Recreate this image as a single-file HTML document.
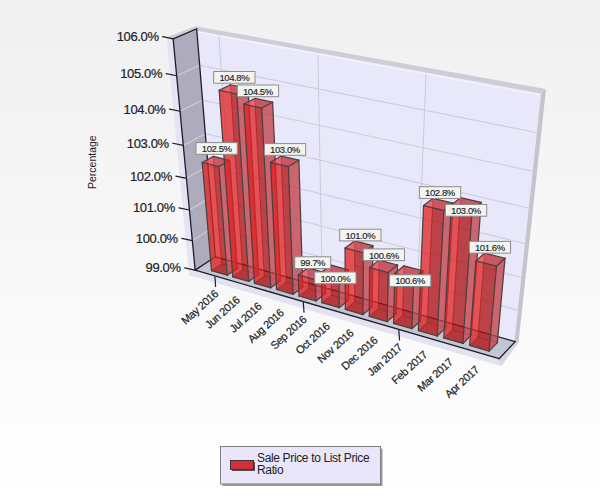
<!DOCTYPE html>
<html><head><meta charset="utf-8"><style>
html,body{margin:0;padding:0;}
body{width:600px;height:500px;overflow:hidden;background:linear-gradient(to bottom,#f0f0f0,#ffffff);font-family:"Liberation Sans",sans-serif;}
svg{position:absolute;left:0;top:0;}
.yl{font-size:13px;letter-spacing:-0.35px;stroke:#1c2228;stroke-width:0.2px;text-anchor:end;fill:#1c2228;}
.dl{font-size:9.5px;letter-spacing:-0.4px;stroke:#1c2228;stroke-width:0.15px;text-anchor:middle;fill:#1c2228;}
.xl{font-size:11px;letter-spacing:-0.4px;stroke:#1c2228;stroke-width:0.2px;text-anchor:end;fill:#1c2228;}
.tt{font-size:10.5px;fill:#1c2228;}
.lg{font-size:12px;letter-spacing:-0.35px;fill:#1c2228;}
</style></head><body>
<svg width="600" height="500" viewBox="0 0 600 500">
<polygon points="166.50,37.50 173.50,39.30 195.60,270.40 195.60,277.00 189.00,275.00" fill="#e4e4f4"/>
<polygon points="189.00,268.00 195.60,270.40 499.50,359.20 514.50,341.20 518.50,342.50 501.00,366.00 195.60,277.00 189.00,275.00" fill="#e2e2f0"/>
<polygon points="499.50,359.20 514.50,341.20 518.50,342.50 501.00,366.00" fill="#d6d6e2"/>
<polygon points="215.42,256.81 515.22,341.64 540.81,92.30 196.68,28.97" fill="#e8e8fa"/>
<polygon points="195.15,270.11 173.14,38.86 196.68,28.97 215.42,256.81" fill="#aeacbc"/>
<polygon points="195.15,270.11 499.12,358.69 515.22,341.64 215.42,256.81" fill="#c2c6d2"/>
<line x1="213.02" y1="227.67" x2="518.44" y2="310.25" stroke="#cacadc" stroke-width="1" stroke-linecap="butt"/>
<line x1="192.34" y1="240.61" x2="213.02" y2="227.67" stroke="#d6d6e2" stroke-width="1" stroke-linecap="butt"/>
<line x1="210.54" y1="197.50" x2="521.79" y2="277.60" stroke="#cacadc" stroke-width="1" stroke-linecap="butt"/>
<line x1="189.43" y1="210.03" x2="210.54" y2="197.50" stroke="#d6d6e2" stroke-width="1" stroke-linecap="butt"/>
<line x1="207.97" y1="166.23" x2="525.28" y2="243.60" stroke="#cacadc" stroke-width="1" stroke-linecap="butt"/>
<line x1="186.42" y1="178.33" x2="207.97" y2="166.23" stroke="#d6d6e2" stroke-width="1" stroke-linecap="butt"/>
<line x1="205.30" y1="133.81" x2="528.92" y2="208.17" stroke="#cacadc" stroke-width="1" stroke-linecap="butt"/>
<line x1="183.29" y1="145.43" x2="205.30" y2="133.81" stroke="#d6d6e2" stroke-width="1" stroke-linecap="butt"/>
<line x1="202.53" y1="100.18" x2="532.71" y2="171.21" stroke="#cacadc" stroke-width="1" stroke-linecap="butt"/>
<line x1="180.04" y1="111.27" x2="202.53" y2="100.18" stroke="#d6d6e2" stroke-width="1" stroke-linecap="butt"/>
<line x1="199.66" y1="65.25" x2="536.67" y2="132.62" stroke="#cacadc" stroke-width="1" stroke-linecap="butt"/>
<line x1="176.66" y1="75.77" x2="199.66" y2="65.25" stroke="#d6d6e2" stroke-width="1" stroke-linecap="butt"/>
<line x1="234.98" y1="262.34" x2="218.75" y2="33.03" stroke="#cacadc" stroke-width="1" stroke-linecap="butt"/>
<line x1="322.28" y1="287.05" x2="317.90" y2="51.28" stroke="#cacadc" stroke-width="1" stroke-linecap="butt"/>
<line x1="416.50" y1="313.70" x2="426.10" y2="71.19" stroke="#cacadc" stroke-width="1" stroke-linecap="butt"/>
<line x1="197.50" y1="32.00" x2="540.00" y2="95.00" stroke="#f6f6fe" stroke-width="1.6" stroke-linecap="butt" stroke-opacity="0.75"/>
<polygon points="166.50,37.20 195.50,26.20 546.00,89.00 541.00,93.40 196.30,30.60 173.50,39.30" fill="#cdcdd8"/>
<polygon points="546.00,89.00 518.50,342.50 514.50,341.20 541.00,93.40" fill="#c4c4cc"/>
<line x1="195.15" y1="270.11" x2="173.14" y2="38.86" stroke="#1e1e28" stroke-width="1.3" stroke-linecap="round"/>
<line x1="173.14" y1="38.86" x2="196.68" y2="28.97" stroke="#1e1e28" stroke-width="1.3" stroke-linecap="round"/>
<line x1="196.68" y1="28.97" x2="215.42" y2="256.81" stroke="#1e1e28" stroke-width="1.3" stroke-linecap="round"/>
<line x1="195.15" y1="270.11" x2="215.42" y2="256.81" stroke="#1e1e28" stroke-width="1.3" stroke-linecap="round"/>
<line x1="195.15" y1="270.11" x2="499.12" y2="358.69" stroke="#1e1e28" stroke-width="1.3" stroke-linecap="round"/>
<line x1="499.12" y1="358.69" x2="515.22" y2="341.64" stroke="#1e1e28" stroke-width="1.3" stroke-linecap="round"/>
<line x1="515.22" y1="341.64" x2="215.42" y2="256.81" stroke="#1e1e28" stroke-width="1.3" stroke-linecap="round"/>
<line x1="195.15" y1="270.11" x2="184.65" y2="267.91" stroke="#1e1e28" stroke-width="1.2" stroke-linecap="round"/>
<text x="180.65" y="272.41" class="yl">99.0%</text>
<line x1="192.34" y1="240.61" x2="181.84" y2="238.41" stroke="#1e1e28" stroke-width="1.2" stroke-linecap="round"/>
<text x="177.84" y="242.91" class="yl">100.0%</text>
<line x1="189.43" y1="210.03" x2="178.93" y2="207.83" stroke="#1e1e28" stroke-width="1.2" stroke-linecap="round"/>
<text x="174.93" y="212.33" class="yl">101.0%</text>
<line x1="186.42" y1="178.33" x2="175.92" y2="176.13" stroke="#1e1e28" stroke-width="1.2" stroke-linecap="round"/>
<text x="171.92" y="180.63" class="yl">102.0%</text>
<line x1="183.29" y1="145.43" x2="172.79" y2="143.23" stroke="#1e1e28" stroke-width="1.2" stroke-linecap="round"/>
<text x="168.79" y="147.73" class="yl">103.0%</text>
<line x1="180.04" y1="111.27" x2="169.54" y2="109.07" stroke="#1e1e28" stroke-width="1.2" stroke-linecap="round"/>
<text x="165.54" y="113.57" class="yl">104.0%</text>
<line x1="176.66" y1="75.77" x2="166.16" y2="73.57" stroke="#1e1e28" stroke-width="1.2" stroke-linecap="round"/>
<text x="162.16" y="78.07" class="yl">105.0%</text>
<line x1="173.14" y1="38.86" x2="162.64" y2="36.66" stroke="#1e1e28" stroke-width="1.2" stroke-linecap="round"/>
<text x="158.64" y="41.16" class="yl">106.0%</text>
<line x1="214.93" y1="276.88" x2="215.63" y2="286.38" stroke="#1e1e28" stroke-width="1.2" stroke-linecap="round"/>
<line x1="303.31" y1="302.63" x2="304.01" y2="312.13" stroke="#1e1e28" stroke-width="1.2" stroke-linecap="round"/>
<line x1="398.85" y1="330.47" x2="399.55" y2="339.97" stroke="#1e1e28" stroke-width="1.2" stroke-linecap="round"/>
<polygon points="221.59,263.91 237.21,268.36 229.69,160.44 213.12,156.48" fill="#300000" fill-opacity="0.5"/>
<polygon points="211.47,270.66 221.59,263.91 213.12,156.48 202.24,162.51" fill="#d04040" fill-opacity="0.5"/>
<polygon points="211.47,270.66 227.18,275.21 237.21,268.36 221.59,263.91" fill="#400000" fill-opacity="0.5"/>
<line x1="237.21" y1="268.36" x2="221.59" y2="263.91" stroke="#702828" stroke-width="1" stroke-linecap="round" stroke-opacity="0.75"/>
<line x1="221.59" y1="263.91" x2="211.47" y2="270.66" stroke="#702828" stroke-width="1" stroke-linecap="round" stroke-opacity="0.75"/>
<line x1="221.59" y1="263.91" x2="213.12" y2="156.48" stroke="#702828" stroke-width="1" stroke-linecap="round" stroke-opacity="0.75"/>
<polygon points="211.47,270.66 227.18,275.21 218.92,166.56 202.24,162.51" fill="#ea1010" fill-opacity="0.5"/>
<polygon points="227.18,275.21 237.21,268.36 229.69,160.44 218.92,166.56" fill="#ff5a64" fill-opacity="0.55"/>
<polygon points="202.24,162.51 218.92,166.56 229.69,160.44 213.12,156.48" fill="#ff4050" fill-opacity="0.55"/>
<line x1="211.47" y1="270.66" x2="227.18" y2="275.21" stroke="#4c4040" stroke-width="1.25" stroke-linecap="round"/>
<line x1="227.18" y1="275.21" x2="237.21" y2="268.36" stroke="#4c4040" stroke-width="1.25" stroke-linecap="round"/>
<line x1="202.24" y1="162.51" x2="218.92" y2="166.56" stroke="#4c4040" stroke-width="1.25" stroke-linecap="round"/>
<line x1="218.92" y1="166.56" x2="229.69" y2="160.44" stroke="#4c4040" stroke-width="1.25" stroke-linecap="round"/>
<line x1="229.69" y1="160.44" x2="213.12" y2="156.48" stroke="#4c4040" stroke-width="1.25" stroke-linecap="round"/>
<line x1="213.12" y1="156.48" x2="202.24" y2="162.51" stroke="#4c4040" stroke-width="1.25" stroke-linecap="round"/>
<line x1="211.47" y1="270.66" x2="202.24" y2="162.51" stroke="#4c4040" stroke-width="1.25" stroke-linecap="round"/>
<line x1="227.18" y1="275.21" x2="218.92" y2="166.56" stroke="#4c4040" stroke-width="1.25" stroke-linecap="round"/>
<line x1="237.21" y1="268.36" x2="229.69" y2="160.44" stroke="#4c4040" stroke-width="1.25" stroke-linecap="round"/>
<polygon points="242.73,269.94 258.65,274.48 248.05,88.38 230.44,84.76" fill="#300000" fill-opacity="0.5"/>
<polygon points="232.73,276.82 242.73,269.94 230.44,84.76 219.16,90.29" fill="#d04040" fill-opacity="0.5"/>
<polygon points="232.73,276.82 248.74,281.46 258.65,274.48 242.73,269.94" fill="#400000" fill-opacity="0.5"/>
<line x1="258.65" y1="274.48" x2="242.73" y2="269.94" stroke="#702828" stroke-width="1" stroke-linecap="round" stroke-opacity="0.75"/>
<line x1="242.73" y1="269.94" x2="232.73" y2="276.82" stroke="#702828" stroke-width="1" stroke-linecap="round" stroke-opacity="0.75"/>
<line x1="242.73" y1="269.94" x2="230.44" y2="84.76" stroke="#702828" stroke-width="1" stroke-linecap="round" stroke-opacity="0.75"/>
<polygon points="232.73,276.82 248.74,281.46 236.89,94.00 219.16,90.29" fill="#ea1010" fill-opacity="0.5"/>
<polygon points="248.74,281.46 258.65,274.48 248.05,88.38 236.89,94.00" fill="#ff5a64" fill-opacity="0.55"/>
<polygon points="219.16,90.29 236.89,94.00 248.05,88.38 230.44,84.76" fill="#ff4050" fill-opacity="0.55"/>
<line x1="232.73" y1="276.82" x2="248.74" y2="281.46" stroke="#4c4040" stroke-width="1.25" stroke-linecap="round"/>
<line x1="248.74" y1="281.46" x2="258.65" y2="274.48" stroke="#4c4040" stroke-width="1.25" stroke-linecap="round"/>
<line x1="219.16" y1="90.29" x2="236.89" y2="94.00" stroke="#4c4040" stroke-width="1.25" stroke-linecap="round"/>
<line x1="236.89" y1="94.00" x2="248.05" y2="88.38" stroke="#4c4040" stroke-width="1.25" stroke-linecap="round"/>
<line x1="248.05" y1="88.38" x2="230.44" y2="84.76" stroke="#4c4040" stroke-width="1.25" stroke-linecap="round"/>
<line x1="230.44" y1="84.76" x2="219.16" y2="90.29" stroke="#4c4040" stroke-width="1.25" stroke-linecap="round"/>
<line x1="232.73" y1="276.82" x2="219.16" y2="90.29" stroke="#4c4040" stroke-width="1.25" stroke-linecap="round"/>
<line x1="248.74" y1="281.46" x2="236.89" y2="94.00" stroke="#4c4040" stroke-width="1.25" stroke-linecap="round"/>
<line x1="258.65" y1="274.48" x2="248.05" y2="88.38" stroke="#4c4040" stroke-width="1.25" stroke-linecap="round"/>
<polygon points="264.27,276.08 280.49,280.71 272.65,102.22 254.75,98.47" fill="#300000" fill-opacity="0.5"/>
<polygon points="254.40,283.09 264.27,276.08 254.75,98.47 243.70,104.20" fill="#d04040" fill-opacity="0.5"/>
<polygon points="254.40,283.09 270.72,287.82 280.49,280.71 264.27,276.08" fill="#400000" fill-opacity="0.5"/>
<line x1="280.49" y1="280.71" x2="264.27" y2="276.08" stroke="#702828" stroke-width="1" stroke-linecap="round" stroke-opacity="0.75"/>
<line x1="264.27" y1="276.08" x2="254.40" y2="283.09" stroke="#702828" stroke-width="1" stroke-linecap="round" stroke-opacity="0.75"/>
<line x1="264.27" y1="276.08" x2="254.75" y2="98.47" stroke="#702828" stroke-width="1" stroke-linecap="round" stroke-opacity="0.75"/>
<polygon points="254.40,283.09 270.72,287.82 261.72,108.03 243.70,104.20" fill="#ea1010" fill-opacity="0.5"/>
<polygon points="270.72,287.82 280.49,280.71 272.65,102.22 261.72,108.03" fill="#ff5a64" fill-opacity="0.55"/>
<polygon points="243.70,104.20 261.72,108.03 272.65,102.22 254.75,98.47" fill="#ff4050" fill-opacity="0.55"/>
<line x1="254.40" y1="283.09" x2="270.72" y2="287.82" stroke="#4c4040" stroke-width="1.25" stroke-linecap="round"/>
<line x1="270.72" y1="287.82" x2="280.49" y2="280.71" stroke="#4c4040" stroke-width="1.25" stroke-linecap="round"/>
<line x1="243.70" y1="104.20" x2="261.72" y2="108.03" stroke="#4c4040" stroke-width="1.25" stroke-linecap="round"/>
<line x1="261.72" y1="108.03" x2="272.65" y2="102.22" stroke="#4c4040" stroke-width="1.25" stroke-linecap="round"/>
<line x1="272.65" y1="102.22" x2="254.75" y2="98.47" stroke="#4c4040" stroke-width="1.25" stroke-linecap="round"/>
<line x1="254.75" y1="98.47" x2="243.70" y2="104.20" stroke="#4c4040" stroke-width="1.25" stroke-linecap="round"/>
<line x1="254.40" y1="283.09" x2="243.70" y2="104.20" stroke="#4c4040" stroke-width="1.25" stroke-linecap="round"/>
<line x1="270.72" y1="287.82" x2="261.72" y2="108.03" stroke="#4c4040" stroke-width="1.25" stroke-linecap="round"/>
<line x1="280.49" y1="280.71" x2="272.65" y2="102.22" stroke="#4c4040" stroke-width="1.25" stroke-linecap="round"/>
<polygon points="286.22,282.34 302.74,287.06 298.88,160.18 281.11,156.06" fill="#300000" fill-opacity="0.5"/>
<polygon points="276.48,289.49 286.22,282.34 281.11,156.06 270.56,162.33" fill="#d04040" fill-opacity="0.5"/>
<polygon points="276.48,289.49 293.11,294.30 302.74,287.06 286.22,282.34" fill="#400000" fill-opacity="0.5"/>
<line x1="302.74" y1="287.06" x2="286.22" y2="282.34" stroke="#702828" stroke-width="1" stroke-linecap="round" stroke-opacity="0.75"/>
<line x1="286.22" y1="282.34" x2="276.48" y2="289.49" stroke="#702828" stroke-width="1" stroke-linecap="round" stroke-opacity="0.75"/>
<line x1="286.22" y1="282.34" x2="281.11" y2="156.06" stroke="#702828" stroke-width="1" stroke-linecap="round" stroke-opacity="0.75"/>
<polygon points="276.48,289.49 293.11,294.30 288.45,166.54 270.56,162.33" fill="#ea1010" fill-opacity="0.5"/>
<polygon points="293.11,294.30 302.74,287.06 298.88,160.18 288.45,166.54" fill="#ff5a64" fill-opacity="0.55"/>
<polygon points="270.56,162.33 288.45,166.54 298.88,160.18 281.11,156.06" fill="#ff4050" fill-opacity="0.55"/>
<line x1="276.48" y1="289.49" x2="293.11" y2="294.30" stroke="#4c4040" stroke-width="1.25" stroke-linecap="round"/>
<line x1="293.11" y1="294.30" x2="302.74" y2="287.06" stroke="#4c4040" stroke-width="1.25" stroke-linecap="round"/>
<line x1="270.56" y1="162.33" x2="288.45" y2="166.54" stroke="#4c4040" stroke-width="1.25" stroke-linecap="round"/>
<line x1="288.45" y1="166.54" x2="298.88" y2="160.18" stroke="#4c4040" stroke-width="1.25" stroke-linecap="round"/>
<line x1="298.88" y1="160.18" x2="281.11" y2="156.06" stroke="#4c4040" stroke-width="1.25" stroke-linecap="round"/>
<line x1="281.11" y1="156.06" x2="270.56" y2="162.33" stroke="#4c4040" stroke-width="1.25" stroke-linecap="round"/>
<line x1="276.48" y1="289.49" x2="270.56" y2="162.33" stroke="#4c4040" stroke-width="1.25" stroke-linecap="round"/>
<line x1="293.11" y1="294.30" x2="288.45" y2="166.54" stroke="#4c4040" stroke-width="1.25" stroke-linecap="round"/>
<line x1="302.74" y1="287.06" x2="298.88" y2="160.18" stroke="#4c4040" stroke-width="1.25" stroke-linecap="round"/>
<polygon points="308.59,288.72 325.43,293.53 325.08,272.54 308.02,267.82" fill="#300000" fill-opacity="0.5"/>
<polygon points="298.99,296.01 308.59,288.72 308.02,267.82 298.30,274.97" fill="#d04040" fill-opacity="0.5"/>
<polygon points="298.99,296.01 315.95,300.91 325.43,293.53 308.59,288.72" fill="#400000" fill-opacity="0.5"/>
<line x1="325.43" y1="293.53" x2="308.59" y2="288.72" stroke="#702828" stroke-width="1" stroke-linecap="round" stroke-opacity="0.75"/>
<line x1="308.59" y1="288.72" x2="298.99" y2="296.01" stroke="#702828" stroke-width="1" stroke-linecap="round" stroke-opacity="0.75"/>
<line x1="308.59" y1="288.72" x2="308.02" y2="267.82" stroke="#702828" stroke-width="1" stroke-linecap="round" stroke-opacity="0.75"/>
<polygon points="298.99,296.01 315.95,300.91 315.47,279.79 298.30,274.97" fill="#ea1010" fill-opacity="0.5"/>
<polygon points="315.95,300.91 325.43,293.53 325.08,272.54 315.47,279.79" fill="#ff5a64" fill-opacity="0.55"/>
<polygon points="298.30,274.97 315.47,279.79 325.08,272.54 308.02,267.82" fill="#ff4050" fill-opacity="0.55"/>
<line x1="298.99" y1="296.01" x2="315.95" y2="300.91" stroke="#4c4040" stroke-width="1.25" stroke-linecap="round"/>
<line x1="315.95" y1="300.91" x2="325.43" y2="293.53" stroke="#4c4040" stroke-width="1.25" stroke-linecap="round"/>
<line x1="298.30" y1="274.97" x2="315.47" y2="279.79" stroke="#4c4040" stroke-width="1.25" stroke-linecap="round"/>
<line x1="315.47" y1="279.79" x2="325.08" y2="272.54" stroke="#4c4040" stroke-width="1.25" stroke-linecap="round"/>
<line x1="325.08" y1="272.54" x2="308.02" y2="267.82" stroke="#4c4040" stroke-width="1.25" stroke-linecap="round"/>
<line x1="308.02" y1="267.82" x2="298.30" y2="274.97" stroke="#4c4040" stroke-width="1.25" stroke-linecap="round"/>
<line x1="298.99" y1="296.01" x2="298.30" y2="274.97" stroke="#4c4040" stroke-width="1.25" stroke-linecap="round"/>
<line x1="315.95" y1="300.91" x2="315.47" y2="279.79" stroke="#4c4040" stroke-width="1.25" stroke-linecap="round"/>
<line x1="325.43" y1="293.53" x2="325.08" y2="272.54" stroke="#4c4040" stroke-width="1.25" stroke-linecap="round"/>
<polygon points="331.38,295.23 348.56,300.13 348.48,269.80 330.99,265.03" fill="#300000" fill-opacity="0.5"/>
<polygon points="321.94,302.65 331.38,295.23 330.99,265.03 321.37,272.26" fill="#d04040" fill-opacity="0.5"/>
<polygon points="321.94,302.65 339.23,307.66 348.56,300.13 331.38,295.23" fill="#400000" fill-opacity="0.5"/>
<line x1="348.56" y1="300.13" x2="331.38" y2="295.23" stroke="#702828" stroke-width="1" stroke-linecap="round" stroke-opacity="0.75"/>
<line x1="331.38" y1="295.23" x2="321.94" y2="302.65" stroke="#702828" stroke-width="1" stroke-linecap="round" stroke-opacity="0.75"/>
<line x1="331.38" y1="295.23" x2="330.99" y2="265.03" stroke="#702828" stroke-width="1" stroke-linecap="round" stroke-opacity="0.75"/>
<polygon points="321.94,302.65 339.23,307.66 338.98,277.14 321.37,272.26" fill="#ea1010" fill-opacity="0.5"/>
<polygon points="339.23,307.66 348.56,300.13 348.48,269.80 338.98,277.14" fill="#ff5a64" fill-opacity="0.55"/>
<polygon points="321.37,272.26 338.98,277.14 348.48,269.80 330.99,265.03" fill="#ff4050" fill-opacity="0.55"/>
<line x1="321.94" y1="302.65" x2="339.23" y2="307.66" stroke="#4c4040" stroke-width="1.25" stroke-linecap="round"/>
<line x1="339.23" y1="307.66" x2="348.56" y2="300.13" stroke="#4c4040" stroke-width="1.25" stroke-linecap="round"/>
<line x1="321.37" y1="272.26" x2="338.98" y2="277.14" stroke="#4c4040" stroke-width="1.25" stroke-linecap="round"/>
<line x1="338.98" y1="277.14" x2="348.48" y2="269.80" stroke="#4c4040" stroke-width="1.25" stroke-linecap="round"/>
<line x1="348.48" y1="269.80" x2="330.99" y2="265.03" stroke="#4c4040" stroke-width="1.25" stroke-linecap="round"/>
<line x1="330.99" y1="265.03" x2="321.37" y2="272.26" stroke="#4c4040" stroke-width="1.25" stroke-linecap="round"/>
<line x1="321.94" y1="302.65" x2="321.37" y2="272.26" stroke="#4c4040" stroke-width="1.25" stroke-linecap="round"/>
<line x1="339.23" y1="307.66" x2="338.98" y2="277.14" stroke="#4c4040" stroke-width="1.25" stroke-linecap="round"/>
<line x1="348.56" y1="300.13" x2="348.48" y2="269.80" stroke="#4c4040" stroke-width="1.25" stroke-linecap="round"/>
<polygon points="354.63,301.86 372.14,306.86 372.87,245.64 354.70,240.91" fill="#300000" fill-opacity="0.5"/>
<polygon points="345.34,309.43 354.63,301.86 354.70,240.91 345.06,248.08" fill="#d04040" fill-opacity="0.5"/>
<polygon points="345.34,309.43 362.97,314.53 372.14,306.86 354.63,301.86" fill="#400000" fill-opacity="0.5"/>
<line x1="372.14" y1="306.86" x2="354.63" y2="301.86" stroke="#702828" stroke-width="1" stroke-linecap="round" stroke-opacity="0.75"/>
<line x1="354.63" y1="301.86" x2="345.34" y2="309.43" stroke="#702828" stroke-width="1" stroke-linecap="round" stroke-opacity="0.75"/>
<line x1="354.63" y1="301.86" x2="354.70" y2="240.91" stroke="#702828" stroke-width="1" stroke-linecap="round" stroke-opacity="0.75"/>
<polygon points="345.34,309.43 362.97,314.53 363.37,252.92 345.06,248.08" fill="#ea1010" fill-opacity="0.5"/>
<polygon points="362.97,314.53 372.14,306.86 372.87,245.64 363.37,252.92" fill="#ff5a64" fill-opacity="0.55"/>
<polygon points="345.06,248.08 363.37,252.92 372.87,245.64 354.70,240.91" fill="#ff4050" fill-opacity="0.55"/>
<line x1="345.34" y1="309.43" x2="362.97" y2="314.53" stroke="#4c4040" stroke-width="1.25" stroke-linecap="round"/>
<line x1="362.97" y1="314.53" x2="372.14" y2="306.86" stroke="#4c4040" stroke-width="1.25" stroke-linecap="round"/>
<line x1="345.06" y1="248.08" x2="363.37" y2="252.92" stroke="#4c4040" stroke-width="1.25" stroke-linecap="round"/>
<line x1="363.37" y1="252.92" x2="372.87" y2="245.64" stroke="#4c4040" stroke-width="1.25" stroke-linecap="round"/>
<line x1="372.87" y1="245.64" x2="354.70" y2="240.91" stroke="#4c4040" stroke-width="1.25" stroke-linecap="round"/>
<line x1="354.70" y1="240.91" x2="345.06" y2="248.08" stroke="#4c4040" stroke-width="1.25" stroke-linecap="round"/>
<line x1="345.34" y1="309.43" x2="345.06" y2="248.08" stroke="#4c4040" stroke-width="1.25" stroke-linecap="round"/>
<line x1="362.97" y1="314.53" x2="363.37" y2="252.92" stroke="#4c4040" stroke-width="1.25" stroke-linecap="round"/>
<line x1="372.14" y1="306.86" x2="372.87" y2="245.64" stroke="#4c4040" stroke-width="1.25" stroke-linecap="round"/>
<polygon points="378.33,308.62 396.18,313.72 397.50,265.01 379.09,260.13" fill="#300000" fill-opacity="0.5"/>
<polygon points="369.21,316.34 378.33,308.62 379.09,260.13 369.71,267.54" fill="#d04040" fill-opacity="0.5"/>
<polygon points="369.21,316.34 387.19,321.54 396.18,313.72 378.33,308.62" fill="#400000" fill-opacity="0.5"/>
<line x1="396.18" y1="313.72" x2="378.33" y2="308.62" stroke="#702828" stroke-width="1" stroke-linecap="round" stroke-opacity="0.75"/>
<line x1="378.33" y1="308.62" x2="369.21" y2="316.34" stroke="#702828" stroke-width="1" stroke-linecap="round" stroke-opacity="0.75"/>
<line x1="378.33" y1="308.62" x2="379.09" y2="260.13" stroke="#702828" stroke-width="1" stroke-linecap="round" stroke-opacity="0.75"/>
<polygon points="369.21,316.34 387.19,321.54 388.25,272.53 369.71,267.54" fill="#ea1010" fill-opacity="0.5"/>
<polygon points="387.19,321.54 396.18,313.72 397.50,265.01 388.25,272.53" fill="#ff5a64" fill-opacity="0.55"/>
<polygon points="369.71,267.54 388.25,272.53 397.50,265.01 379.09,260.13" fill="#ff4050" fill-opacity="0.55"/>
<line x1="369.21" y1="316.34" x2="387.19" y2="321.54" stroke="#4c4040" stroke-width="1.25" stroke-linecap="round"/>
<line x1="387.19" y1="321.54" x2="396.18" y2="313.72" stroke="#4c4040" stroke-width="1.25" stroke-linecap="round"/>
<line x1="369.71" y1="267.54" x2="388.25" y2="272.53" stroke="#4c4040" stroke-width="1.25" stroke-linecap="round"/>
<line x1="388.25" y1="272.53" x2="397.50" y2="265.01" stroke="#4c4040" stroke-width="1.25" stroke-linecap="round"/>
<line x1="397.50" y1="265.01" x2="379.09" y2="260.13" stroke="#4c4040" stroke-width="1.25" stroke-linecap="round"/>
<line x1="379.09" y1="260.13" x2="369.71" y2="267.54" stroke="#4c4040" stroke-width="1.25" stroke-linecap="round"/>
<line x1="369.21" y1="316.34" x2="369.71" y2="267.54" stroke="#4c4040" stroke-width="1.25" stroke-linecap="round"/>
<line x1="387.19" y1="321.54" x2="388.25" y2="272.53" stroke="#4c4040" stroke-width="1.25" stroke-linecap="round"/>
<line x1="396.18" y1="313.72" x2="397.50" y2="265.01" stroke="#4c4040" stroke-width="1.25" stroke-linecap="round"/>
<polygon points="402.50,315.52 420.71,320.71 422.83,270.76 404.04,265.78" fill="#300000" fill-opacity="0.5"/>
<polygon points="393.55,323.39 402.50,315.52 404.04,265.78 394.83,273.33" fill="#d04040" fill-opacity="0.5"/>
<polygon points="393.55,323.39 411.90,328.70 420.71,320.71 402.50,315.52" fill="#400000" fill-opacity="0.5"/>
<line x1="420.71" y1="320.71" x2="402.50" y2="315.52" stroke="#702828" stroke-width="1" stroke-linecap="round" stroke-opacity="0.75"/>
<line x1="402.50" y1="315.52" x2="393.55" y2="323.39" stroke="#702828" stroke-width="1" stroke-linecap="round" stroke-opacity="0.75"/>
<line x1="402.50" y1="315.52" x2="404.04" y2="265.78" stroke="#702828" stroke-width="1" stroke-linecap="round" stroke-opacity="0.75"/>
<polygon points="393.55,323.39 411.90,328.70 413.77,278.42 394.83,273.33" fill="#ea1010" fill-opacity="0.5"/>
<polygon points="411.90,328.70 420.71,320.71 422.83,270.76 413.77,278.42" fill="#ff5a64" fill-opacity="0.55"/>
<polygon points="394.83,273.33 413.77,278.42 422.83,270.76 404.04,265.78" fill="#ff4050" fill-opacity="0.55"/>
<line x1="393.55" y1="323.39" x2="411.90" y2="328.70" stroke="#4c4040" stroke-width="1.25" stroke-linecap="round"/>
<line x1="411.90" y1="328.70" x2="420.71" y2="320.71" stroke="#4c4040" stroke-width="1.25" stroke-linecap="round"/>
<line x1="394.83" y1="273.33" x2="413.77" y2="278.42" stroke="#4c4040" stroke-width="1.25" stroke-linecap="round"/>
<line x1="413.77" y1="278.42" x2="422.83" y2="270.76" stroke="#4c4040" stroke-width="1.25" stroke-linecap="round"/>
<line x1="422.83" y1="270.76" x2="404.04" y2="265.78" stroke="#4c4040" stroke-width="1.25" stroke-linecap="round"/>
<line x1="404.04" y1="265.78" x2="394.83" y2="273.33" stroke="#4c4040" stroke-width="1.25" stroke-linecap="round"/>
<line x1="393.55" y1="323.39" x2="394.83" y2="273.33" stroke="#4c4040" stroke-width="1.25" stroke-linecap="round"/>
<line x1="411.90" y1="328.70" x2="413.77" y2="278.42" stroke="#4c4040" stroke-width="1.25" stroke-linecap="round"/>
<line x1="420.71" y1="320.71" x2="422.83" y2="270.76" stroke="#4c4040" stroke-width="1.25" stroke-linecap="round"/>
<polygon points="427.15,322.55 445.74,327.85 453.00,203.11 432.92,198.40" fill="#300000" fill-opacity="0.5"/>
<polygon points="418.39,330.58 427.15,322.55 432.92,198.40 423.54,205.56" fill="#d04040" fill-opacity="0.5"/>
<polygon points="418.39,330.58 437.12,336.00 445.74,327.85 427.15,322.55" fill="#400000" fill-opacity="0.5"/>
<line x1="445.74" y1="327.85" x2="427.15" y2="322.55" stroke="#702828" stroke-width="1" stroke-linecap="round" stroke-opacity="0.75"/>
<line x1="427.15" y1="322.55" x2="418.39" y2="330.58" stroke="#702828" stroke-width="1" stroke-linecap="round" stroke-opacity="0.75"/>
<line x1="427.15" y1="322.55" x2="432.92" y2="198.40" stroke="#702828" stroke-width="1" stroke-linecap="round" stroke-opacity="0.75"/>
<polygon points="418.39,330.58 437.12,336.00 443.79,210.39 423.54,205.56" fill="#ea1010" fill-opacity="0.5"/>
<polygon points="437.12,336.00 445.74,327.85 453.00,203.11 443.79,210.39" fill="#ff5a64" fill-opacity="0.55"/>
<polygon points="423.54,205.56 443.79,210.39 453.00,203.11 432.92,198.40" fill="#ff4050" fill-opacity="0.55"/>
<line x1="418.39" y1="330.58" x2="437.12" y2="336.00" stroke="#4c4040" stroke-width="1.25" stroke-linecap="round"/>
<line x1="437.12" y1="336.00" x2="445.74" y2="327.85" stroke="#4c4040" stroke-width="1.25" stroke-linecap="round"/>
<line x1="423.54" y1="205.56" x2="443.79" y2="210.39" stroke="#4c4040" stroke-width="1.25" stroke-linecap="round"/>
<line x1="443.79" y1="210.39" x2="453.00" y2="203.11" stroke="#4c4040" stroke-width="1.25" stroke-linecap="round"/>
<line x1="453.00" y1="203.11" x2="432.92" y2="198.40" stroke="#4c4040" stroke-width="1.25" stroke-linecap="round"/>
<line x1="432.92" y1="198.40" x2="423.54" y2="205.56" stroke="#4c4040" stroke-width="1.25" stroke-linecap="round"/>
<line x1="418.39" y1="330.58" x2="423.54" y2="205.56" stroke="#4c4040" stroke-width="1.25" stroke-linecap="round"/>
<line x1="437.12" y1="336.00" x2="443.79" y2="210.39" stroke="#4c4040" stroke-width="1.25" stroke-linecap="round"/>
<line x1="445.74" y1="327.85" x2="453.00" y2="203.11" stroke="#4c4040" stroke-width="1.25" stroke-linecap="round"/>
<polygon points="452.31,329.73 471.27,335.14 481.17,202.43 460.55,197.66" fill="#300000" fill-opacity="0.5"/>
<polygon points="443.74,337.92 452.31,329.73 460.55,197.66 451.37,204.92" fill="#d04040" fill-opacity="0.5"/>
<polygon points="443.74,337.92 462.86,343.45 471.27,335.14 452.31,329.73" fill="#400000" fill-opacity="0.5"/>
<line x1="471.27" y1="335.14" x2="452.31" y2="329.73" stroke="#702828" stroke-width="1" stroke-linecap="round" stroke-opacity="0.75"/>
<line x1="452.31" y1="329.73" x2="443.74" y2="337.92" stroke="#702828" stroke-width="1" stroke-linecap="round" stroke-opacity="0.75"/>
<line x1="452.31" y1="329.73" x2="460.55" y2="197.66" stroke="#702828" stroke-width="1" stroke-linecap="round" stroke-opacity="0.75"/>
<polygon points="443.74,337.92 462.86,343.45 472.16,209.82 451.37,204.92" fill="#ea1010" fill-opacity="0.5"/>
<polygon points="462.86,343.45 471.27,335.14 481.17,202.43 472.16,209.82" fill="#ff5a64" fill-opacity="0.55"/>
<polygon points="451.37,204.92 472.16,209.82 481.17,202.43 460.55,197.66" fill="#ff4050" fill-opacity="0.55"/>
<line x1="443.74" y1="337.92" x2="462.86" y2="343.45" stroke="#4c4040" stroke-width="1.25" stroke-linecap="round"/>
<line x1="462.86" y1="343.45" x2="471.27" y2="335.14" stroke="#4c4040" stroke-width="1.25" stroke-linecap="round"/>
<line x1="451.37" y1="204.92" x2="472.16" y2="209.82" stroke="#4c4040" stroke-width="1.25" stroke-linecap="round"/>
<line x1="472.16" y1="209.82" x2="481.17" y2="202.43" stroke="#4c4040" stroke-width="1.25" stroke-linecap="round"/>
<line x1="481.17" y1="202.43" x2="460.55" y2="197.66" stroke="#4c4040" stroke-width="1.25" stroke-linecap="round"/>
<line x1="460.55" y1="197.66" x2="451.37" y2="204.92" stroke="#4c4040" stroke-width="1.25" stroke-linecap="round"/>
<line x1="443.74" y1="337.92" x2="451.37" y2="204.92" stroke="#4c4040" stroke-width="1.25" stroke-linecap="round"/>
<line x1="462.86" y1="343.45" x2="472.16" y2="209.82" stroke="#4c4040" stroke-width="1.25" stroke-linecap="round"/>
<line x1="471.27" y1="335.14" x2="481.17" y2="202.43" stroke="#4c4040" stroke-width="1.25" stroke-linecap="round"/>
<polygon points="477.98,337.05 497.34,342.58 505.04,258.25 484.60,253.11" fill="#300000" fill-opacity="0.5"/>
<polygon points="469.62,345.41 477.98,337.05 484.60,253.11 475.87,260.91" fill="#d04040" fill-opacity="0.5"/>
<polygon points="469.62,345.41 489.13,351.06 497.34,342.58 477.98,337.05" fill="#400000" fill-opacity="0.5"/>
<line x1="497.34" y1="342.58" x2="477.98" y2="337.05" stroke="#702828" stroke-width="1" stroke-linecap="round" stroke-opacity="0.75"/>
<line x1="477.98" y1="337.05" x2="469.62" y2="345.41" stroke="#702828" stroke-width="1" stroke-linecap="round" stroke-opacity="0.75"/>
<line x1="477.98" y1="337.05" x2="484.60" y2="253.11" stroke="#702828" stroke-width="1" stroke-linecap="round" stroke-opacity="0.75"/>
<polygon points="469.62,345.41 489.13,351.06 496.49,266.18 475.87,260.91" fill="#ea1010" fill-opacity="0.5"/>
<polygon points="489.13,351.06 497.34,342.58 505.04,258.25 496.49,266.18" fill="#ff5a64" fill-opacity="0.55"/>
<polygon points="475.87,260.91 496.49,266.18 505.04,258.25 484.60,253.11" fill="#ff4050" fill-opacity="0.55"/>
<line x1="469.62" y1="345.41" x2="489.13" y2="351.06" stroke="#4c4040" stroke-width="1.25" stroke-linecap="round"/>
<line x1="489.13" y1="351.06" x2="497.34" y2="342.58" stroke="#4c4040" stroke-width="1.25" stroke-linecap="round"/>
<line x1="475.87" y1="260.91" x2="496.49" y2="266.18" stroke="#4c4040" stroke-width="1.25" stroke-linecap="round"/>
<line x1="496.49" y1="266.18" x2="505.04" y2="258.25" stroke="#4c4040" stroke-width="1.25" stroke-linecap="round"/>
<line x1="505.04" y1="258.25" x2="484.60" y2="253.11" stroke="#4c4040" stroke-width="1.25" stroke-linecap="round"/>
<line x1="484.60" y1="253.11" x2="475.87" y2="260.91" stroke="#4c4040" stroke-width="1.25" stroke-linecap="round"/>
<line x1="469.62" y1="345.41" x2="475.87" y2="260.91" stroke="#4c4040" stroke-width="1.25" stroke-linecap="round"/>
<line x1="489.13" y1="351.06" x2="496.49" y2="266.18" stroke="#4c4040" stroke-width="1.25" stroke-linecap="round"/>
<line x1="497.34" y1="342.58" x2="505.04" y2="258.25" stroke="#4c4040" stroke-width="1.25" stroke-linecap="round"/>
<rect x="196.0" y="142.6" width="41.3" height="11.7" fill="#f4f4ee" stroke="#8c8c8c" stroke-width="1"/><text x="216.7" y="152.2" class="dl">102.5%</text>
<rect x="213.7" y="71.5" width="41.3" height="11.7" fill="#f4f4ee" stroke="#8c8c8c" stroke-width="1"/><text x="234.3" y="81.1" class="dl">104.8%</text>
<rect x="237.3" y="85.0" width="41.3" height="11.7" fill="#f4f4ee" stroke="#8c8c8c" stroke-width="1"/><text x="257.9" y="94.6" class="dl">104.5%</text>
<rect x="264.4" y="143.6" width="41.3" height="11.7" fill="#f4f4ee" stroke="#8c8c8c" stroke-width="1"/><text x="285.0" y="153.2" class="dl">103.0%</text>
<rect x="294.7" y="256.8" width="36.0" height="11.7" fill="#f4f4ee" stroke="#8c8c8c" stroke-width="1"/><text x="312.7" y="266.4" class="dl">99.7%</text>
<rect x="314.7" y="272.0" width="41.3" height="11.7" fill="#f4f4ee" stroke="#8c8c8c" stroke-width="1"/><text x="335.3" y="281.6" class="dl">100.0%</text>
<rect x="339.7" y="229.2" width="41.3" height="11.7" fill="#f4f4ee" stroke="#8c8c8c" stroke-width="1"/><text x="360.3" y="238.8" class="dl">101.0%</text>
<rect x="363.2" y="248.9" width="41.3" height="11.7" fill="#f4f4ee" stroke="#8c8c8c" stroke-width="1"/><text x="383.8" y="258.5" class="dl">100.6%</text>
<rect x="389.5" y="274.8" width="41.3" height="11.7" fill="#f4f4ee" stroke="#8c8c8c" stroke-width="1"/><text x="410.1" y="284.4" class="dl">100.6%</text>
<rect x="419.4" y="186.7" width="41.3" height="11.7" fill="#f4f4ee" stroke="#8c8c8c" stroke-width="1"/><text x="440.0" y="196.3" class="dl">102.8%</text>
<rect x="445.4" y="204.5" width="41.3" height="11.7" fill="#f4f4ee" stroke="#8c8c8c" stroke-width="1"/><text x="466.0" y="214.1" class="dl">103.0%</text>
<rect x="469.3" y="241.4" width="41.3" height="11.7" fill="#f4f4ee" stroke="#8c8c8c" stroke-width="1"/><text x="489.9" y="251.0" class="dl">101.6%</text>
<text transform="translate(218.93,294.88) rotate(-42)" class="xl">May 2016</text>
<text transform="translate(240.40,301.13) rotate(-42)" class="xl">Jun 2016</text>
<text transform="translate(262.28,307.51) rotate(-42)" class="xl">Jul 2016</text>
<text transform="translate(284.58,314.00) rotate(-42)" class="xl">Aug 2016</text>
<text transform="translate(307.31,320.63) rotate(-42)" class="xl">Sep 2016</text>
<text transform="translate(330.49,327.38) rotate(-42)" class="xl">Oct 2016</text>
<text transform="translate(354.13,334.27) rotate(-42)" class="xl">Nov 2016</text>
<text transform="translate(378.24,341.30) rotate(-42)" class="xl">Dec 2016</text>
<text transform="translate(402.85,348.47) rotate(-42)" class="xl">Jan 2017</text>
<text transform="translate(427.95,355.79) rotate(-42)" class="xl">Feb 2017</text>
<text transform="translate(453.58,363.25) rotate(-42)" class="xl">Mar 2017</text>
<text transform="translate(479.74,370.88) rotate(-42)" class="xl">Apr 2017</text>
<text transform="translate(96,189) rotate(-90)" class="tt">Percentage</text>
<rect x="222.5" y="448.5" width="160" height="37.5" fill="#9a9aa0"/>
<rect x="220.5" y="446.5" width="160" height="37.5" fill="#e8e6f8" stroke="#808088" stroke-width="1"/>
<rect x="232" y="462" width="23" height="9" fill="#505058"/>
<rect x="230.5" y="460.5" width="23" height="9" fill="#d0303a" stroke="#40303a" stroke-width="1"/>
<text x="257" y="462.2" class="lg">Sale Price to List Price</text>
<text x="257" y="473.9" class="lg">Ratio</text>
</svg>
</body></html>
